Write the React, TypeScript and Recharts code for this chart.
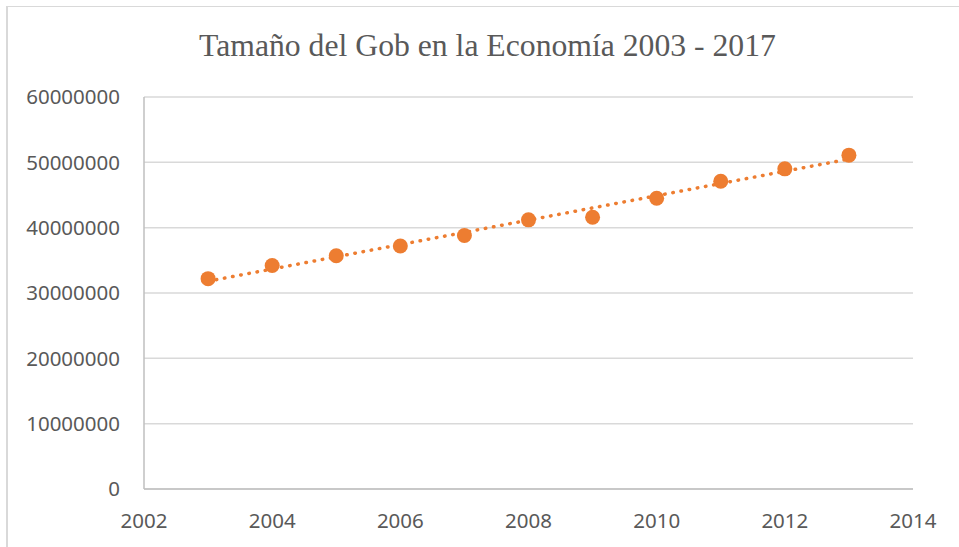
import React from 'react';
import { ComposedChart, XAxis, YAxis, CartesianGrid, Line, Scatter } from 'recharts';

const years = [2003, 2004, 2005, 2006, 2007, 2008, 2009, 2010, 2011, 2012, 2013];
const values = [32200000, 34200000, 35700000, 37200000, 38800000, 41200000, 41600000, 44500000, 47100000, 49000000, 51100000];
const trendYears = [2003, 2013];
const trendValues = [31800000, 50500000];
const xTicks = [2002, 2004, 2006, 2008, 2010, 2012, 2014];
const yTicks = [0, 10000000, 20000000, 30000000, 40000000, 50000000, 60000000];
const title = 'Tamaño del Gob en la Economía 2003 - 2017';

const points = years.map((x, i) => ({ x, y: values[i] }));
const trend = trendYears.map((x, i) => ({ x, y: trendValues[i] }));

const ORANGE = '#ED7D31';
const TEXT = '#595959';
const tickStyle = { fill: TEXT, fontSize: 20.5, fontFamily: '"Noto Sans", sans-serif' };

const Marker = (props: any) => {
  const { cx, cy } = props;
  if (cx == null || cy == null) return null;
  return <circle cx={cx} cy={cy} r={7.5} fill={ORANGE} />;
};

export default function App() {
  return (
    <div style={{ position: 'absolute', left: 0, top: 0, width: 959, height: 547, background: '#fff', overflow: 'hidden' }}>
      <div
        style={{
          position: 'absolute',
          left: 6,
          top: 6,
          width: 960,
          height: 560,
          borderTop: '1.5px solid #d9d9d9',
          borderLeft: '2px solid #d9d9d9',
        }}
      />
      <svg style={{ position: 'absolute', left: 0, top: 0 }} width={959} height={80}>
        <text
          x={487.5}
          y={56}
          textAnchor="middle"
          fill={TEXT}
          fontSize={31.7}
          fontFamily='"Liberation Serif", "Times New Roman", serif'
        >
          {title}
        </text>
      </svg>
      <div style={{ position: 'absolute', left: 0, top: 0 }}>
        <ComposedChart
          width={959}
          height={547}
          margin={{ top: 97, right: 46, bottom: 28, left: 0 }}
        >
          <CartesianGrid vertical={false} stroke="#d9d9d9" strokeWidth={1.5} />
          <XAxis
            type="number"
            dataKey="x"
            domain={[2002, 2014]}
            ticks={xTicks}
            allowDataOverflow
            height={30}
            tickLine={false}
            tickSize={0}
            tickMargin={24}
            axisLine={{ stroke: '#bfbfbf', strokeWidth: 1.5 }}
            tick={tickStyle}
            interval={0}
          />
          <YAxis
            type="number"
            dataKey="y"
            domain={[0, 60000000]}
            ticks={yTicks}
            width={144}
            tickLine={false}
            tickSize={0}
            tickMargin={24}
            axisLine={{ stroke: '#bfbfbf', strokeWidth: 1.5 }}
            tick={tickStyle}
            interval={0}
          />
          <Line
            data={trend}
            dataKey="y"
            type="linear"
            stroke={ORANGE}
            strokeWidth={3.5}
            strokeDasharray="0.5 7.8"
            strokeLinecap="round"
            dot={false}
            activeDot={false}
            isAnimationActive={false}
          />
          <Scatter
            data={points}
            dataKey="y"
            fill={ORANGE}
            shape={Marker}
            isAnimationActive={false}
          />
        </ComposedChart>
      </div>
    </div>
  );
}
